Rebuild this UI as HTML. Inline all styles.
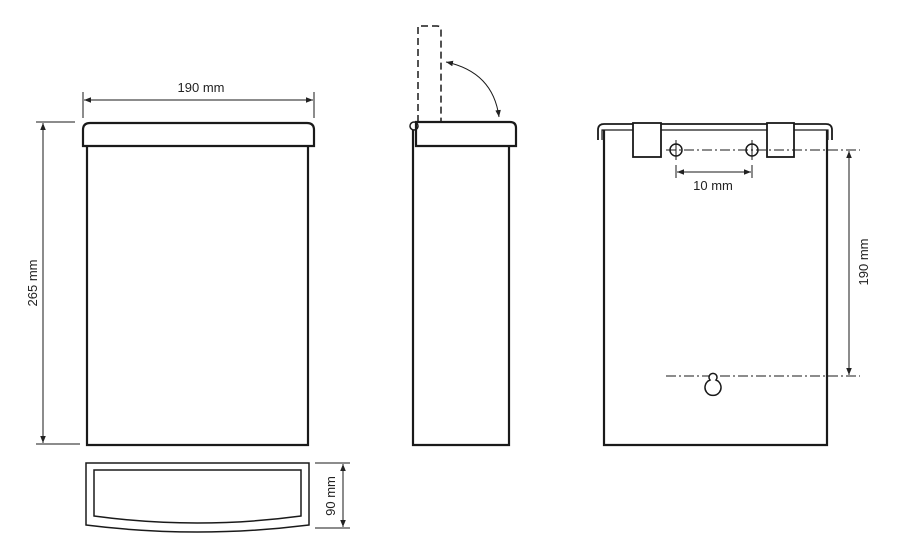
<!DOCTYPE html>
<html><head><meta charset="utf-8"><style>html,body{margin:0;padding:0;background:#fff}svg{display:block}</style></head>
<body>
<svg width="908" height="550" viewBox="0 0 908 550" xmlns="http://www.w3.org/2000/svg" font-family="Liberation Sans, sans-serif">
<defs>
<marker id="a" viewBox="0 0 10 10" refX="10" refY="5" markerWidth="7" markerHeight="7" orient="auto-start-reverse"><path d="M0,1 L10,5 L0,9 z" fill="#222"/></marker>
</defs>
<g fill="none" stroke="#1a1a1a">
<!-- front view -->
<path d="M83,146 V130 Q83,123 90,123 H307 Q314,123 314,130 V146 Z" stroke-width="2.2"/>
<path d="M87,146 V445 H308 V146" stroke-width="2.2"/>
<g stroke-width="1">
<line x1="83" y1="92" x2="83" y2="118"/><line x1="314" y1="92" x2="314" y2="118"/>
<line x1="84" y1="100" x2="313" y2="100" marker-start="url(#a)" marker-end="url(#a)"/>
<line x1="36" y1="122" x2="75" y2="122"/><line x1="36" y1="444" x2="80" y2="444"/>
<line x1="43" y1="123" x2="43" y2="443" marker-start="url(#a)" marker-end="url(#a)"/>
</g>
<!-- bottom view -->
<path d="M86,463 H309 V525 Q197,539 86,525 Z" stroke-width="1.5"/>
<path d="M94,470 H301 V516 Q197,530 94,516 Z" stroke-width="1.5"/>
<g stroke-width="1">
<line x1="315" y1="463" x2="350" y2="463"/><line x1="315" y1="528" x2="350" y2="528"/>
<line x1="343" y1="464" x2="343" y2="527" marker-start="url(#a)" marker-end="url(#a)"/>
</g>
<!-- side view -->
<path d="M416,146 V122 H510 Q516,122 516,128 V146 Z" stroke-width="2.2"/>
<circle cx="414" cy="126" r="4" stroke-width="1.5"/>
<path d="M413,130 V445 H509 V146" stroke-width="2.2"/>
<path d="M418,122 V26 H437 Q441,26 441,30 V122" stroke-width="1.5" stroke-dasharray="7,4"/>
<path d="M446,62 Q493,72 499,117" stroke-width="1" marker-start="url(#a)" marker-end="url(#a)"/>
<!-- rear view -->
<path d="M598,140 V130 Q598,124 604,124 H826 Q832,124 832,130 V140" stroke-width="1.8"/>
<path d="M602,140 V130 H828 V140" stroke-width="1.2"/>
<path d="M604,130 V445 H827 V130" stroke-width="2.2"/>
<rect x="633" y="123" width="28" height="34" fill="#fff" stroke-width="1.8"/>
<rect x="767" y="123" width="27" height="34" fill="#fff" stroke-width="1.8"/>
<circle cx="676" cy="150" r="6" stroke-width="1.5"/>
<circle cx="752" cy="150" r="6" stroke-width="1.5"/>
<g stroke-width="1">
<line x1="676" y1="140" x2="676" y2="160"/><line x1="752" y1="140" x2="752" y2="160"/>
<line x1="666" y1="150" x2="860" y2="150" stroke-dasharray="10,3,2,3"/>
<line x1="666" y1="376" x2="860" y2="376" stroke-dasharray="10,3,2,3"/>
<line x1="676" y1="165" x2="676" y2="178"/><line x1="752" y1="165" x2="752" y2="178"/>
<line x1="677" y1="172" x2="751" y2="172" marker-start="url(#a)" marker-end="url(#a)"/>
<line x1="849" y1="151" x2="849" y2="375" marker-start="url(#a)" marker-end="url(#a)"/>
</g>
<path d="M710,380 A4,4 0 1 1 716,380 A8,8 0 1 1 710,380 Z" stroke-width="1.5" fill="#fff"/>
</g>
<g fill="#222" font-size="13">
<text x="201" y="92" text-anchor="middle">190 mm</text>
<text x="713" y="190" text-anchor="middle">10 mm</text>
<text transform="translate(37,283) rotate(-90)" text-anchor="middle">265 mm</text>
<text transform="translate(335,496) rotate(-90)" text-anchor="middle">90 mm</text>
<text transform="translate(868,262) rotate(-90)" text-anchor="middle">190 mm</text>
</g>
</svg>
</body></html>
